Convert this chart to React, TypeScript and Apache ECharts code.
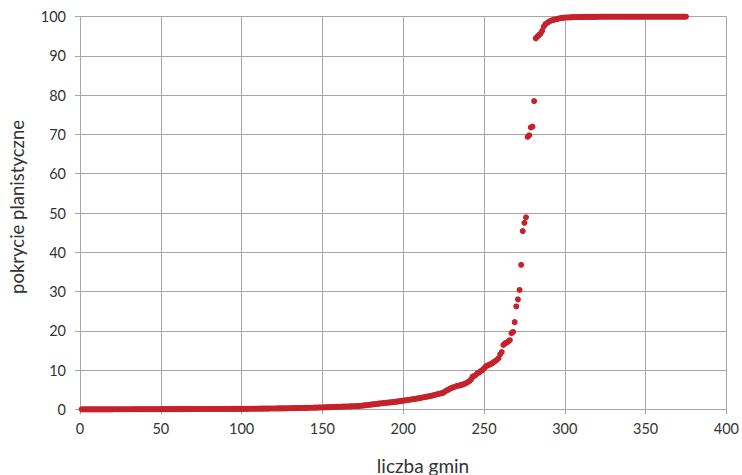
import React, { useEffect, useRef } from "react";
import * as echarts from "echarts";

// y values for municipalities 1..241
const lowValues = [
  0, 0, 0, 0, 0, 0, 0, 0, 0, 0,
  0, 0, 0, 0, 0, 0, 0, 0, 0, 0,
  0.01, 0.01, 0.01, 0.01, 0.01, 0.01, 0.01, 0.01, 0.01, 0.01,
  0.01, 0.01, 0.02, 0.02, 0.02, 0.02, 0.02, 0.02, 0.02, 0.02,
  0.02, 0.03, 0.03, 0.03, 0.03, 0.03, 0.03, 0.03, 0.03, 0.03,
  0.04, 0.04, 0.04, 0.04, 0.04, 0.04, 0.05, 0.05, 0.05, 0.05,
  0.05, 0.05, 0.05, 0.05, 0.06, 0.06, 0.06, 0.06, 0.06, 0.06,
  0.06, 0.07, 0.07, 0.07, 0.07, 0.07, 0.07, 0.08, 0.08, 0.08,
  0.08, 0.08, 0.08, 0.09, 0.09, 0.09, 0.09, 0.09, 0.1, 0.1,
  0.1, 0.1, 0.1, 0.11, 0.11, 0.11, 0.11, 0.12, 0.12, 0.12,
  0.12, 0.13, 0.13, 0.13, 0.14, 0.14, 0.14, 0.15, 0.15, 0.16,
  0.16, 0.17, 0.17, 0.18, 0.18, 0.19, 0.19, 0.2, 0.2, 0.21,
  0.21, 0.22, 0.23, 0.23, 0.24, 0.25, 0.25, 0.26, 0.27, 0.28,
  0.28, 0.29, 0.3, 0.31, 0.32, 0.33, 0.34, 0.35, 0.36, 0.37,
  0.38, 0.39, 0.4, 0.41, 0.42, 0.43, 0.44, 0.46, 0.47, 0.48,
  0.5, 0.51, 0.53, 0.54, 0.56, 0.57, 0.59, 0.6, 0.62, 0.63,
  0.65, 0.66, 0.68, 0.69, 0.71, 0.72, 0.74, 0.75, 0.77, 0.79,
  0.8, 0.82, 0.85, 0.9, 0.95, 1.0, 1.05, 1.1, 1.15, 1.2,
  1.25, 1.3, 1.35, 1.4, 1.45, 1.5, 1.55, 1.6, 1.64, 1.68,
  1.72, 1.76, 1.8, 1.85, 1.9, 1.96, 2.02, 2.08, 2.14, 2.2,
  2.26, 2.32, 2.38, 2.44, 2.5, 2.57, 2.64, 2.71, 2.78, 2.85,
  2.92, 3.0, 3.08, 3.16, 3.24, 3.32, 3.4, 3.5, 3.6, 3.7,
  3.84, 3.93, 4.02, 4.12, 4.25, 4.6, 4.8, 5.0, 5.25, 5.45,
  5.6, 5.75, 5.9, 6.0, 6.1, 6.2, 6.35, 6.5, 6.7, 6.9,
  7.2,
];

// y values for municipalities 242..300
const riseValues = [
  7.6, 8.3, 8.5, 8.8, 9.2, 9.4, 9.7, 10.0, 10.4, 10.9,
  11.1, 11.3, 11.5, 11.7, 12.0, 12.3, 12.6, 13.0, 14.0, 14.6,
  16.4, 16.8, 17.0, 17.3, 17.6, 19.4, 19.7, 22.2, 26.2, 28.0,
  30.4, 36.8, 45.4, 47.5, 48.9, 69.4, 69.8, 71.8, 72.0, 78.5,
  94.5, 94.9, 95.3, 95.7, 96.4, 97.5, 98.1, 98.4, 98.7, 98.9,
  99.1, 99.2, 99.3, 99.4, 99.5, 99.6, 99.7, 99.7, 99.8,
];

// y values for municipalities 301..375
const plateauValues = [
  99.8, 99.8, 99.85, 99.85, 99.9, 99.9, 99.9, 99.9, 99.9, 99.9,
  99.95, 99.95, 99.95, 99.95, 99.95, 99.95, 99.95, 99.95, 99.95, 99.95,
  100, 100, 100, 100, 100, 100, 100, 100, 100, 100,
  100, 100, 100, 100, 100, 100, 100, 100, 100, 100,
  100, 100, 100, 100, 100, 100, 100, 100, 100, 100,
  100, 100, 100, 100, 100, 100, 100, 100, 100, 100,
  100, 100, 100, 100, 100, 100, 100, 100, 100, 100,
  100, 100, 100, 100, 100,
];

const xTitle = "liczba gmin";
const yTitle = "pokrycie planistyczne";

const FONT = "Lato, 'Open Sans', sans-serif";

export default function App() {
  const ref = useRef<HTMLDivElement>(null);

  useEffect(() => {
    if (!ref.current) return;
    const chart = echarts.init(ref.current, null, { renderer: "svg" });
    const yValues = [...lowValues, ...riseValues, ...plateauValues];
    const data = yValues.map((v, i) => [i + 1, v]);
    const grey = "#a6a6a6";
    chart.setOption({
      animation: false,
      backgroundColor: "#ffffff",
      grid: { left: 80, right: 13.5, top: 16.7, bottom: 65.7 },
      xAxis: {
        type: "value",
        min: 0,
        max: 400,
        interval: 50,
        axisLine: { show: true, lineStyle: { color: grey, width: 1 } },
        axisTick: { show: true, length: 5, lineStyle: { color: grey } },
        splitLine: { show: true, lineStyle: { color: grey, width: 1 } },
        axisLabel: { color: "#333", fontSize: 14.5, fontFamily: FONT, margin: 12 },
      },
      yAxis: {
        type: "value",
        min: 0,
        max: 100,
        interval: 10,
        axisLine: { show: true, lineStyle: { color: grey, width: 1 } },
        axisTick: { show: true, length: 5, lineStyle: { color: grey } },
        splitLine: { show: true, lineStyle: { color: grey, width: 1 } },
        axisLabel: { color: "#333", fontSize: 14.5, fontFamily: FONT, margin: 14 },
      },
      graphic: [
        {
          type: "text",
          x: 423,
          y: 465,
          style: {
            text: xTitle,
            fill: "#333",
            fontSize: 19,
            fontFamily: FONT,
            align: "center",
            verticalAlign: "middle",
          },
        },
        {
          type: "text",
          x: 17,
          y: 207,
          rotation: Math.PI / 2,
          style: {
            text: yTitle,
            fill: "#333",
            fontSize: 18.5,
            fontFamily: FONT,
            align: "center",
            verticalAlign: "middle",
          },
        },
      ],
      series: [
        {
          type: "scatter",
          data,
          symbol: "circle",
          symbolSize: 6,
          itemStyle: { color: "#c5222b", opacity: 1 },
        },
      ],
    });
    return () => chart.dispose();
  }, []);

  return (
    <div
      ref={ref}
      style={{ position: "fixed", left: 0, top: 0, width: 742, height: 475 }}
    />
  );
}
